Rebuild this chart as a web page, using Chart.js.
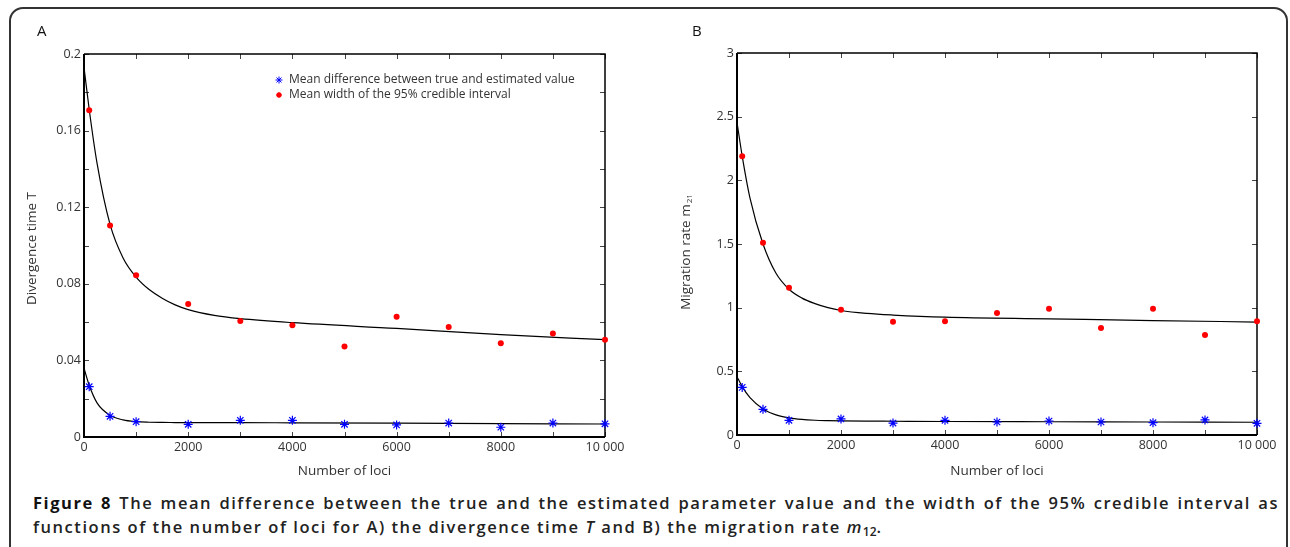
<!DOCTYPE html>
<html>
<head>
<meta charset="utf-8">
<script src="https://cdn.jsdelivr.net/npm/chart.js@4/dist/chart.umd.min.js"></script>
<style>
    body { margin: 0; background: #fff; }
    #page { position: relative; width: 1290px; height: 547px; overflow: hidden; background: #fff; font-family: "Open Sans", sans-serif; }
    #frame { position: absolute; left: 9px; top: 7px; width: 1279px; height: 570px; border: 2px solid #333; border-radius: 14px; box-sizing: border-box; }
    canvas { position: absolute; top: 0; }
    .panel-letter { position: absolute; font-size: 15px; color: #111; }
    #caption { position: absolute; left: 33px; top: 491px; width: 1246px; font-size: 16.5px; letter-spacing: 1.55px; line-height: 24px; font-weight: 600; color: #222; text-align: justify; text-align-last: left; }
    #caption b { font-weight: 700; color: #111; }
    #caption sub { font-size: 12px; vertical-align: -3px; line-height: 0; font-style: normal; letter-spacing: 0; }
</style>
</head>
<body>
<div id="page">
    <div id="frame"></div>
    <canvas id="chart-a" width="650" height="480" style="left:0px"></canvas>
    <canvas id="chart-b" width="640" height="480" style="left:650px"></canvas>
    <div class="panel-letter" style="left:37px; top:20px;">A</div>
    <div class="panel-letter" style="left:692px; top:20px;">B</div>
    <div id="caption"><b>Figure 8</b> The mean difference between the true and the estimated parameter value and the width of the 95% credible interval as functions of the number of loci for A) the divergence time <i>T</i> and B) the migration rate <i>m</i><sub>12</sub>.</div>
</div>

<script>
// number of loci used in the simulations
const lociPoints = [100, 500, 1000, 2000, 3000, 4000, 5000, 6000, 7000, 8000, 9000, 10000];

// panel A: divergence time T
const diffA = [0.0263, 0.0108, 0.0080, 0.0066, 0.0087, 0.0087, 0.0066, 0.0063, 0.0073, 0.0051, 0.0073, 0.0069];
const widthA = [0.1706, 0.1105, 0.0844, 0.0695, 0.0606, 0.0583, 0.0472, 0.0628, 0.0574, 0.0489, 0.0541, 0.0508];

// panel B: migration rate
const diffB = [0.374, 0.202, 0.115, 0.126, 0.094, 0.115, 0.102, 0.110, 0.102, 0.097, 0.118, 0.092];
const widthB = [2.189, 1.510, 1.157, 0.984, 0.890, 0.893, 0.958, 0.992, 0.840, 0.992, 0.785, 0.893];

// fitted curves
const fitLoci = [0, 100, 250, 500, 750, 1000, 1250, 1500, 1750, 2000, 2500, 3000, 4000, 6000, 8000, 10000];
const fitWidthA = [0.193, 0.171, 0.143, 0.111, 0.0935, 0.0835, 0.077, 0.0725, 0.069, 0.0665, 0.0635, 0.0618, 0.0597, 0.0567, 0.0535, 0.0508];
const fitDiffA = [0.0359, 0.027, 0.0178, 0.0113, 0.0089, 0.0080, 0.0077, 0.0076, 0.00755, 0.0075, 0.0075, 0.0075, 0.0074, 0.0072, 0.0070, 0.0068];
const fitWidthB = [2.456, 2.19, 1.86, 1.50, 1.27, 1.145, 1.075, 1.032, 1.0, 0.978, 0.955, 0.942, 0.925, 0.912, 0.899, 0.887];
const fitDiffB = [0.458, 0.38, 0.293, 0.205, 0.158, 0.134, 0.122, 0.116, 0.113, 0.111, 0.109, 0.108, 0.106, 0.104, 0.102, 0.100];

// axis labels
const xTickLabels = { 0: '0', 2000: '2000', 4000: '4000', 6000: '6000', 8000: '8000', 10000: '10 000' };
const yLabelA = 'Divergence time T';
const yLabelB = ['Migration rate m', '21'];
const xLabel = 'Number of loci';
const legendLabels = ['Mean difference between true and estimated value', 'Mean width of the 95% credible interval'];

const FONT = '"Open Sans", sans-serif';
const TEXT = '#333';

function toXY(xs, ys) {
    return xs.map((x, i) => ({ x: x, y: ys[i] }));
}

// frame and inward ticks on all four sides
const framePlugin = {
    id: 'frame',
    beforeDatasetsDraw(chart) {
        const { ctx, chartArea: a, scales } = chart;
        ctx.save();
        ctx.strokeStyle = '#444';
        ctx.lineWidth = 1;
        scales.x.ticks.forEach(t => {
            const px = Math.round(scales.x.getPixelForValue(t.value)) + 0.5;
            ctx.beginPath();
            ctx.moveTo(px, a.bottom); ctx.lineTo(px, a.bottom - 5);
            ctx.moveTo(px, a.top); ctx.lineTo(px, a.top + 5);
            ctx.stroke();
        });
        scales.y.ticks.forEach(t => {
            const py = Math.round(scales.y.getPixelForValue(t.value)) + 0.5;
            ctx.beginPath();
            ctx.moveTo(a.left, py); ctx.lineTo(a.left + 5, py);
            ctx.moveTo(a.right, py); ctx.lineTo(a.right - 5, py);
            ctx.stroke();
        });
        ctx.strokeStyle = '#000';
        ctx.lineWidth = 1.5;
        ctx.beginPath();
        ctx.moveTo(a.left, a.top); ctx.lineTo(a.right, a.top); ctx.lineTo(a.right, a.bottom);
        ctx.stroke();
        ctx.lineWidth = 2;
        ctx.beginPath();
        ctx.moveTo(a.left, a.top); ctx.lineTo(a.left, a.bottom); ctx.lineTo(a.right, a.bottom);
        ctx.stroke();
        ctx.restore();
    }
};

// rotated y title, with optional subscript
const yTitlePlugin = {
    id: 'yTitle',
    afterDraw(chart, args, opts) {
        const { ctx, chartArea: a } = chart;
        ctx.save();
        ctx.translate(opts.x, (a.top + a.bottom) / 2 + (opts.dy || 0));
        ctx.rotate(-Math.PI / 2);
        ctx.fillStyle = TEXT;
        ctx.textBaseline = 'middle';
        ctx.textAlign = 'left';
        ctx.font = '13.5px ' + FONT;
        const main = opts.text[0];
        const sub = opts.text[1] || '';
        const w1 = ctx.measureText(main).width;
        ctx.font = '8px ' + FONT;
        const w2 = sub ? ctx.measureText(sub).width + 1 : 0;
        const start = -(w1 + w2) / 2;
        ctx.font = '13.5px ' + FONT;
        ctx.fillText(main, start, 0);
        if (sub) {
            ctx.font = '8px ' + FONT;
            ctx.fillText(sub, start + w1 + 1, 4);
        }
        ctx.restore();
    }
};

// legend box inside panel A
const legendPlugin = {
    id: 'innerLegend',
    afterDatasetsDraw(chart, args, opts) {
        if (!opts.show) return;
        const { ctx, chartArea: a } = chart;
        const mx = a.left + 195;
        const rows = [
            { y: a.top + 26, style: 'star', color: '#0000ff', r: 3.5 },
            { y: a.top + 41, style: 'circle', color: '#ff0000', r: 2.3 }
        ];
        ctx.save();
        rows.forEach((row, i) => {
            ctx.strokeStyle = row.color;
            ctx.fillStyle = row.color;
            ctx.lineWidth = 1;
            Chart.helpers.drawPoint(ctx, { pointStyle: row.style, radius: row.r, borderWidth: 1 }, mx, row.y);
            if (row.style === 'circle') ctx.fill();
            ctx.fillStyle = TEXT;
            ctx.font = '12px ' + FONT;
            ctx.textBaseline = 'middle';
            ctx.fillText(legendLabels[i], mx + 10, row.y);
        });
        ctx.restore();
    }
};

function makePanel(canvasId, cfg) {
    const ctx = document.getElementById(canvasId);
    return new Chart(ctx, {
        type: 'scatter',
        data: {
            datasets: [
                {
                    data: toXY(fitLoci, cfg.fitWidth),
                    showLine: true,
                    borderColor: '#000',
                    borderWidth: 1.2,
                    pointRadius: 0,
                    cubicInterpolationMode: 'monotone',
                    order: 3
                },
                {
                    data: toXY(fitLoci, cfg.fitDiff),
                    showLine: true,
                    borderColor: '#000',
                    borderWidth: 1.2,
                    pointRadius: 0,
                    cubicInterpolationMode: 'monotone',
                    order: 3
                },
                {
                    data: toXY(lociPoints, cfg.diff),
                    pointStyle: 'star',
                    pointRadius: 4.5,
                    borderColor: '#0000ff',
                    borderWidth: 1.2,
                    clip: false,
                    order: 1
                },
                {
                    data: toXY(lociPoints, cfg.width),
                    pointStyle: 'circle',
                    pointRadius: 3,
                    backgroundColor: '#ff0000',
                    borderWidth: 0,
                    clip: false,
                    order: 2
                }
            ]
        },
        options: {
            responsive: false,
            animation: false,
            layout: {
                padding: { top: cfg.top, right: cfg.right, left: 0, bottom: 0 }
            },
            plugins: {
                legend: { display: false },
                tooltip: { enabled: false },
                yTitle: { x: cfg.titleX, text: cfg.yTitle, dy: cfg.titleDy },
                innerLegend: { show: cfg.legend }
            },
            scales: {
                x: {
                    min: 0,
                    max: 10000,
                    grid: { display: false, drawTicks: false },
                    border: { display: false },
                    afterFit: function (scale) { scale.height = cfg.xHeight; },
                    ticks: {
                        stepSize: 1000,
                        autoSkip: false,
                        maxRotation: 0,
                        padding: 3,
                        color: TEXT,
                        font: { family: FONT, size: 12.5 },
                        callback: function (value) {
                            return xTickLabels[value] !== undefined ? xTickLabels[value] : '';
                        }
                    },
                    title: {
                        display: true,
                        text: xLabel,
                        color: TEXT,
                        font: { family: FONT, size: 13.5 },
                        padding: { top: 0, bottom: 1 }
                    }
                },
                y: {
                    min: 0,
                    max: cfg.yMax,
                    grid: { display: false, drawTicks: false },
                    border: { display: false },
                    afterFit: function (scale) { scale.width = cfg.yWidth; },
                    ticks: {
                        stepSize: cfg.yStep,
                        autoSkip: false,
                        padding: 3,
                        color: TEXT,
                        font: { family: FONT, size: 12.5 },
                        callback: cfg.yTick
                    }
                }
            }
        },
        plugins: [framePlugin, yTitlePlugin, legendPlugin]
    });
}

// panel A
makePanel('chart-a', {
    diff: diffA,
    width: widthA,
    fitDiff: fitDiffA,
    fitWidth: fitWidthA,
    yMax: 0.2,
    yStep: 0.02,
    yTick: function (value) {
        const k = Math.round(value / 0.02);
        return k % 2 === 0 ? String(+(k * 0.02).toFixed(2)) : '';
    },
    top: 54,
    right: 45,
    yWidth: 84,
    xHeight: 43,
    titleX: 32,
    titleDy: 3,
    yTitle: [yLabelA],
    legend: true
});

// panel B
makePanel('chart-b', {
    diff: diffB,
    width: widthB,
    fitDiff: fitDiffB,
    fitWidth: fitWidthB,
    yMax: 3,
    yStep: 0.5,
    yTick: function (value) {
        return String(+value.toFixed(1));
    },
    top: 53,
    right: 33,
    yWidth: 87,
    xHeight: 45,
    titleX: 36,
    titleDy: 8,
    yTitle: yLabelB,
    legend: false
});
</script>
</body>
</html>
